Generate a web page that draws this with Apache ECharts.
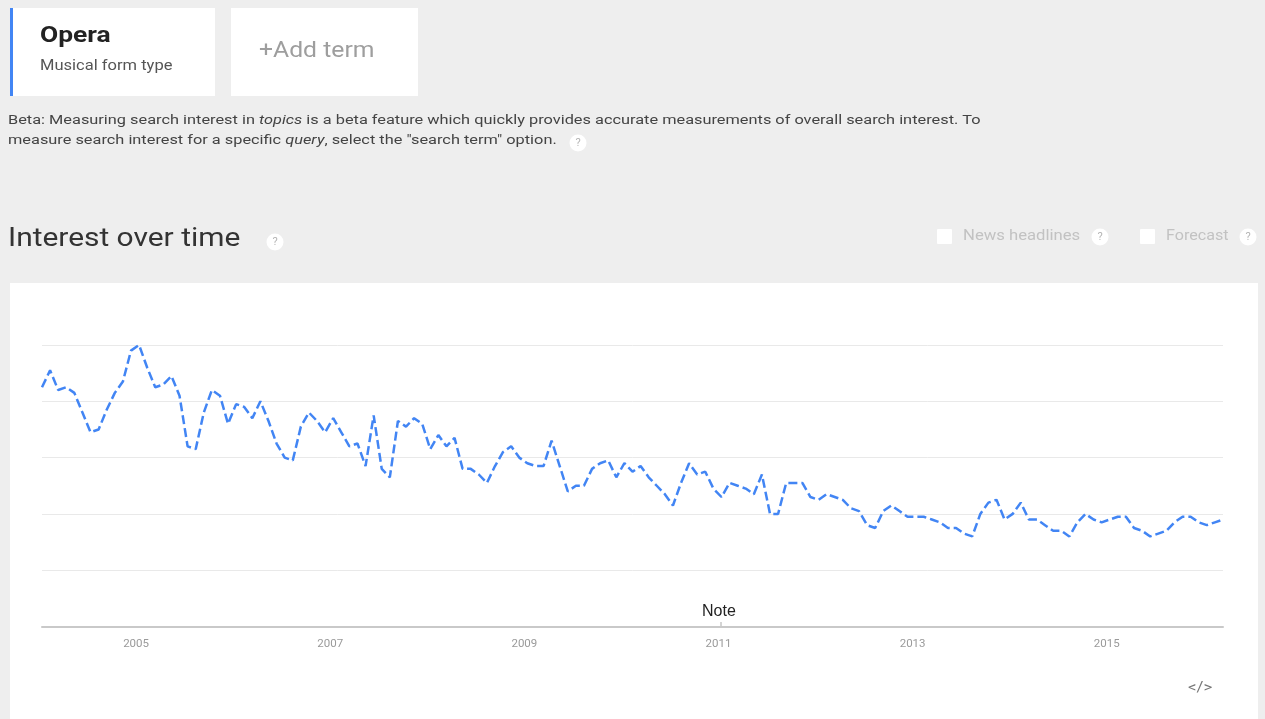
<!DOCTYPE html>
<html>
<head>
<meta charset="utf-8">
<title>Opera - Interest over time</title>
<script src="https://cdn.jsdelivr.net/npm/echarts@6/dist/echarts.min.js"></script>
<style>
  html, body { margin: 0; padding: 0; background: #eeeeee; }
  #chart { width: 1265px; height: 719px; }
</style>
</head>
<body>
<div id="chart"></div>
<script>
// 月度数据 2004-01 ~ 2016-03 (Google Trends 搜索热度 0-100)
const startYear = 2004;
const monthCount = 147;

const interestValues = [
    85, 91, 84, 85, 83, 76, 69, 70, 77, 83, 87, 98,
    100, 92, 85, 86, 89, 82, 64, 63, 76, 84, 82, 72,
    79, 78, 74, 80, 73, 65, 60, 59, 71, 76, 73, 69,
    74, 69, 64, 65, 57, 75, 56, 53, 73, 71, 74, 72,
    63, 68, 64, 67, 56, 56, 54, 51, 57, 62, 64, 60,
    58, 57, 57, 66, 57, 48, 50, 50, 56, 58, 59, 53,
    58, 55, 57, 53, 50, 47, 43, 51, 58, 54, 55, 49,
    46, 51, 50, 49, 47, 54, 40, 40, 51, 51, 51, 46,
    45, 47, 46, 45, 42, 41, 36, 35, 41, 43, 41, 39,
    39, 39, 38, 37, 35, 35, 33, 32, 40, 44, 45, 38,
    40, 44, 38, 38, 36, 34, 34, 32, 37, 40, 38, 37,
    38, 39, 39, 35, 34, 32, 33, 34, 37, 39, 39, 37,
    36, 37, 38
];

const yearLabels = ['2005', '2007', '2009', '2011', '2013', '2015'];
const yTicks = [0, 20, 40, 60, 80, 100];

// 生成月份类目
const months = [];
for (let i = 0; i < monthCount; i++) {
    const y = startYear + Math.floor(i / 12);
    const m = (i % 12) + 1;
    months.push(y + '-' + (m < 10 ? '0' + m : m));
}

const blue = '#4285f4';
const font = 'Roboto, "Noto Sans", sans-serif';

// 文字（按左上角定位，截图里的字横向偏宽，用 scaleX 拉一下）
function label(x, y, text, fontSpec, color, sx) {
    return {
        type: 'text', x: x, y: y, scaleX: sx,
        style: { text: text, x: 0, y: 0, align: 'left', verticalAlign: 'top', font: fontSpec, fill: color }
    };
}

// 问号小图标
function helpIcon(x, y) {
    return {
        type: 'group',
        x: x - 9,
        y: y - 9,
        children: [
            { type: 'circle', shape: { cx: 9, cy: 9, r: 8.5 }, style: { fill: '#ffffff' } },
            { type: 'text', style: { text: '?', x: 9, y: 9, align: 'center', verticalAlign: 'middle', font: '11px ' + font, fill: '#b5b5b5' } }
        ]
    };
}

function checkBox(x, y) {
    return { type: 'rect', x: x, y: y, shape: { width: 15, height: 15, r: 1 }, style: { fill: '#ffffff' } };
}

const chart = echarts.init(document.getElementById('chart'));

const option = {
    backgroundColor: '#eeeeee',
    animation: false,
    grid: { left: 42, right: 42, top: 345, bottom: 92.5 },
    xAxis: {
        type: 'category',
        data: months,
        boundaryGap: false,
        axisLine: { lineStyle: { color: '#c9c9c9', width: 2 } },
        axisTick: { show: false },
        splitLine: { show: false },
        axisLabel: {
            interval: (index) => index % 24 === 12 && yearLabels.includes(months[index].slice(0, 4)),
            formatter: (value) => value.slice(0, 4),
            color: '#9a9a9a',
            fontFamily: font,
            fontSize: 11.5,
            margin: 12,
            padding: [0, 6, 0, 0]
        }
    },
    yAxis: {
        type: 'value',
        min: yTicks[0],
        max: yTicks[yTicks.length - 1],
        interval: 20,
        axisLine: { show: false },
        axisTick: { show: false },
        axisLabel: { show: false },
        splitLine: { lineStyle: { color: '#e9e9e9', width: 1 } }
    },
    graphic: [
        // 图表白色面板
        { type: 'rect', x: 10, y: 283, z: -10, shape: { width: 1248, height: 436 }, style: { fill: '#ffffff' } },

        // 搜索词卡片
        { type: 'rect', x: 10, y: 8, shape: { width: 205, height: 88 }, style: { fill: '#ffffff' } },
        { type: 'rect', x: 10, y: 8, shape: { width: 3, height: 88 }, style: { fill: blue } },
        label(40, 25, 'Opera', 'bold 22px ' + font, '#222222', 1.2),
        label(40, 59, 'Musical form type', '14px ' + font, '#555555', 1.18),
        { type: 'rect', x: 231, y: 8, shape: { width: 187, height: 88 }, style: { fill: '#ffffff' } },
        label(259, 41, '+Add term', '21.5px ' + font, '#9e9e9e', 1.15),

        // Beta 说明文字
        {
            type: 'text', x: 8, y: 111, scaleX: 1.22,
            style: {
                x: 0, y: 0, align: 'left', verticalAlign: 'top',
                text: '{n|Beta: Measuring search interest in }{i|topics}{n| is a beta feature which quickly provides accurate measurements of overall search interest. To}\n' +
                      '{n|measure search interest for a specific }{i|query}{n|, select the "search term" option.}',
                lineHeight: 20,
                rich: {
                    n: { font: '13.4px ' + font, fill: '#444444', lineHeight: 20 },
                    i: { font: 'italic 13.4px ' + font, fill: '#444444', lineHeight: 20 }
                }
            }
        },
        helpIcon(578, 143),

        // 标题
        label(8, 226, 'Interest over time', '26px ' + font, '#333333', 1.15),
        helpIcon(275, 242),

        // 右侧选项
        checkBox(937, 229),
        label(963, 229, 'News headlines', '14px ' + font, '#c2c2c2', 1.19),
        helpIcon(1100, 237),
        checkBox(1140, 229),
        label(1166, 229, 'Forecast', '14px ' + font, '#c2c2c2', 1.15),
        helpIcon(1248, 237),

        // Note 标注
        label(702, 604, 'Note', '16px "Liberation Sans", Arial, sans-serif', '#222222', 1.0),
        { type: 'line', shape: { x1: 721, y1: 622, x2: 721, y2: 627 }, style: { stroke: '#aaaaaa', lineWidth: 1 } },

        // 嵌入代码图标
        label(1188, 681, '</>', '15px ' + font, '#777777', 1.12)
    ],
    series: [
        {
            name: 'Opera',
            type: 'line',
            data: interestValues,
            symbol: 'none',
            smooth: false,
            lineStyle: { color: blue, width: 2.5, type: [9, 4] }
        }
    ]
};

chart.setOption(option);
console.log('✅ Chart rendered, points:', interestValues.length);
</script>
</body>
</html>
